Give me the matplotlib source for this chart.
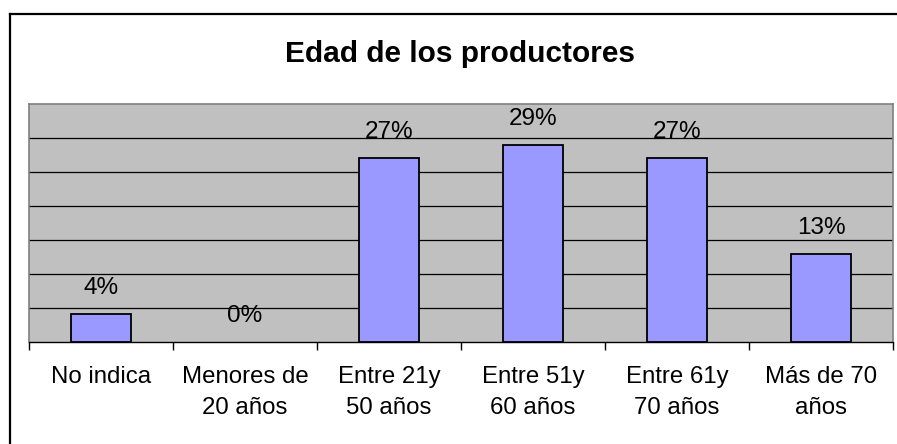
import matplotlib
matplotlib.use("Agg")
import matplotlib.pyplot as plt
from matplotlib.lines import Line2D
import numpy as np

plt.rcParams['font.family'] = ['Liberation Sans', 'DejaVu Sans']

title = "Edad de los productores"
categories = ["No indica", "Menores de\n20 años", "Entre 21y\n50 años",
              "Entre 51y\n60 años", "Entre 61y\n70 años", "Más de 70\naños"]
values = [4.1, 0, 27, 29, 27, 12.9]
labels = ["4%", "0%", "27%", "29%", "27%", "13%"]

W, H = 897, 444
fig = plt.figure(figsize=(W / 100, H / 100), dpi=100)
fig.patch.set_facecolor("white")

# outer chart border (left and top visible)
fig.add_artist(Line2D([10 / W, 10 / W], [0, 1 - 14 / H], transform=fig.transFigure,
                      color="black", lw=1.6))
fig.add_artist(Line2D([10 / W, 1], [1 - 14 / H, 1 - 14 / H], transform=fig.transFigure,
                      color="black", lw=1.6))

left, right, top, bottom = 29 / W, 893 / W, 104 / H, 342 / H
ax = fig.add_axes([left, 1 - bottom, right - left, bottom - top])
ax.set_facecolor("#C0C0C0")

x = np.arange(len(categories))
ax.bar(x, values, width=0.41, color="#9999FF", edgecolor="black",
       linewidth=[1.3 if v > 0 else 0 for v in values], zorder=3)

ax.set_xlim(-0.5, len(categories) - 0.5)
ax.set_ylim(0, 35)
ax.set_yticks(np.arange(5, 35, 5))
ax.yaxis.grid(True, color="black", linewidth=0.9, zorder=1)
ax.tick_params(axis="y", left=False, labelleft=False)

ax.set_xticks(x)
ax.set_xticklabels(categories, fontsize=17.3, linespacing=1.53)
ax.tick_params(axis="x", which="major", length=0, pad=17.5)
ax.set_xticks(np.arange(-0.5, len(categories), 1), minor=True)
ax.tick_params(axis="x", which="minor", length=6, width=1, color="black", direction="out")

for s in ["left", "top", "right"]:
    ax.spines[s].set_color("#808080")
    ax.spines[s].set_linewidth(1.2)
ax.spines["bottom"].set_color("black")
ax.spines["bottom"].set_linewidth(1)

for xi, v, lab in zip(x, values, labels):
    ax.annotate(lab, (xi, v), xytext=(0, 14.4), textcoords="offset points",
                ha="center", va="baseline", fontsize=17.5, zorder=4)

fig.text(460 / W, 1 - 54 / H, title, ha="center", va="center",
         fontsize=21.5, fontweight="bold")

fig.savefig("out.png", dpi=100)
